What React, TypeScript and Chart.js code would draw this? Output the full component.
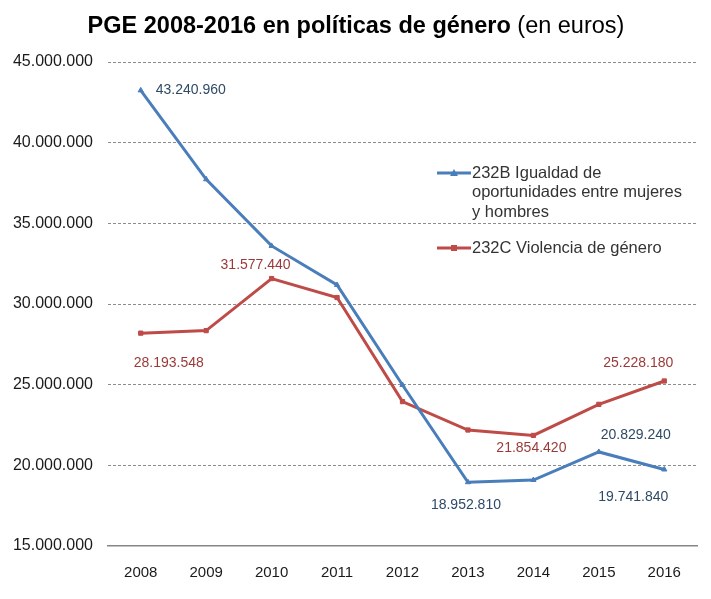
import React, { useEffect, useRef } from "react";
import { Chart, registerables } from "chart.js";

Chart.register(...registerables);

const years = ["2008", "2009", "2010", "2011", "2012", "2013", "2014", "2015", "2016"];
const igualdad = [43240960, 37730000, 33600000, 31180000, 24980000, 18952810, 19090000, 20829240, 19741840];
const violencia = [28193548, 28350000, 31577440, 30400000, 23950000, 22190000, 21854420, 23780000, 25228180];
const yTicks = [15000000, 20000000, 25000000, 30000000, 35000000, 40000000, 45000000];
const seriesNames = ["232B Igualdad de|oportunidades entre mujeres|y hombres", "232C Violencia de género"];
const titleBold = "PGE 2008-2016 en políticas de género";
const titleNormal = " (en euros)";

// which points get a value label (dataset index, point index) + pixel offsets
const labelSpecs = [
  { ds: 0, i: 0, dx: 50, dy: 0 },
  { ds: 0, i: 5, dx: -2, dy: 23 },
  { ds: 0, i: 7, dx: 37, dy: -17 },
  { ds: 0, i: 8, dx: -31, dy: 28 },
  { ds: 1, i: 0, dx: 28, dy: 30 },
  { ds: 1, i: 2, dx: -16, dy: -13 },
  { ds: 1, i: 6, dx: -2, dy: 13 },
  { ds: 1, i: 8, dx: -26, dy: -18 },
];

const BLUE = "#4A7EBB";
const RED = "#BE4B48";
const BLUE_TXT = "#2E4A66";
const RED_TXT = "#9A3A38";
const FONT = "'Liberation Sans', Arial, sans-serif";

const fmt = (v: number) => Math.round(v).toString().replace(/\B(?=(\d{3})+(?!\d))/g, ".");

const overlay = {
  id: "overlay",
  afterDraw(chart: any) {
    const ctx = chart.ctx;
    ctx.save();
    // title
    ctx.textBaseline = "middle";
    ctx.fillStyle = "#000";
    ctx.font = `bold 23.5px ${FONT}`;
    const wb = ctx.measureText(titleBold).width;
    ctx.font = `23.5px ${FONT}`;
    const wn = ctx.measureText(titleNormal).width;
    const x0 = 356 - (wb + wn) / 2;
    ctx.textAlign = "left";
    ctx.font = `bold 23.5px ${FONT}`;
    ctx.fillText(titleBold, x0, 27);
    ctx.font = `23.5px ${FONT}`;
    ctx.fillText(titleNormal, x0 + wb, 27);

    // data labels
    ctx.font = `14px ${FONT}`;
    ctx.textAlign = "center";
    labelSpecs.forEach((s) => {
      const meta = chart.getDatasetMeta(s.ds);
      const el = meta.data[s.i];
      const v = chart.data.datasets[s.ds].data[s.i];
      ctx.fillStyle = s.ds === 0 ? BLUE_TXT : RED_TXT;
      ctx.fillText(fmt(v), el.x + s.dx, el.y + s.dy);
    });

    // legend
    const entries = [
      { color: BLUE, y: 173, shape: "tri" },
      { color: RED, y: 248, shape: "sq" },
    ];
    entries.forEach((e, k) => {
      ctx.strokeStyle = e.color;
      ctx.lineWidth = 3;
      ctx.beginPath();
      ctx.moveTo(437, e.y);
      ctx.lineTo(471, e.y);
      ctx.stroke();
      ctx.fillStyle = e.color;
      if (e.shape === "sq") ctx.fillRect(451, e.y - 3, 6, 6);
      else {
        ctx.beginPath();
        ctx.moveTo(454, e.y - 4);
        ctx.lineTo(458, e.y + 3);
        ctx.lineTo(450, e.y + 3);
        ctx.closePath();
        ctx.fill();
      }
      ctx.fillStyle = "#333";
      ctx.textAlign = "left";
      ctx.font = `16.5px ${FONT}`;
      seriesNames[k].split("|").forEach((line, j) => {
        ctx.fillText(line, 472, e.y + j * 19.5);
      });
    });
    ctx.restore();
  },
};

export default function App() {
  const ref = useRef<HTMLCanvasElement>(null);
  useEffect(() => {
    document.body.style.margin = "0";
    const chart = new Chart(ref.current!, {
      type: "line",
      data: {
        labels: years,
        datasets: [
          {
            label: "232B",
            data: igualdad,
            borderColor: BLUE,
            backgroundColor: BLUE,
            borderWidth: 3,
            pointStyle: "triangle",
            pointRadius: 3,
            pointBorderWidth: 1,
            tension: 0,
          },
          {
            label: "232C",
            data: violencia,
            borderColor: RED,
            backgroundColor: RED,
            borderWidth: 3,
            pointStyle: "rect",
            pointRadius: 3,
            pointBorderWidth: 1,
            tension: 0,
          },
        ],
      },
      options: {
        animation: false,
        responsive: false,
        layout: { padding: { top: 62, right: 14, left: 0, bottom: 0 } },
        plugins: { legend: { display: false }, tooltip: { enabled: false }, title: { display: false } },
        scales: {
          x: {
            offset: true,
            grid: { display: false, drawTicks: false },
            border: { display: true, color: "#868686", width: 1.5 },
            ticks: { color: "#1a1a1a", font: { size: 15, family: FONT }, padding: 18 },
            afterFit: (s: any) => { s.height = 53; },
          },
          y: {
            min: 15000000,
            max: 45000000,
            afterBuildTicks: (s: any) => { s.ticks = yTicks.map((v) => ({ value: v })); },
            grid: {
              color: (c: any) => (c.tick && c.tick.value === 15000000 ? "rgba(0,0,0,0)" : "#8c8c8c"),
              drawTicks: false,
              lineWidth: 1,
            },
            border: { display: false, dash: [3, 2] },
            ticks: {
              color: "#1a1a1a",
              font: { size: 16, family: FONT },
              padding: 15,
              callback: (v: any) => fmt(Number(v)),
            },
            afterFit: (s: any) => { s.width = 108; },
          },
        },
      },
      plugins: [overlay],
    });
    return () => chart.destroy();
  }, []);
  return (
    <div style={{ position: "absolute", left: 0, top: 0, width: 711, height: 599, background: "#fff" }}>
      <canvas ref={ref} width={711} height={599} style={{ width: 711, height: 599 }} />
    </div>
  );
}
